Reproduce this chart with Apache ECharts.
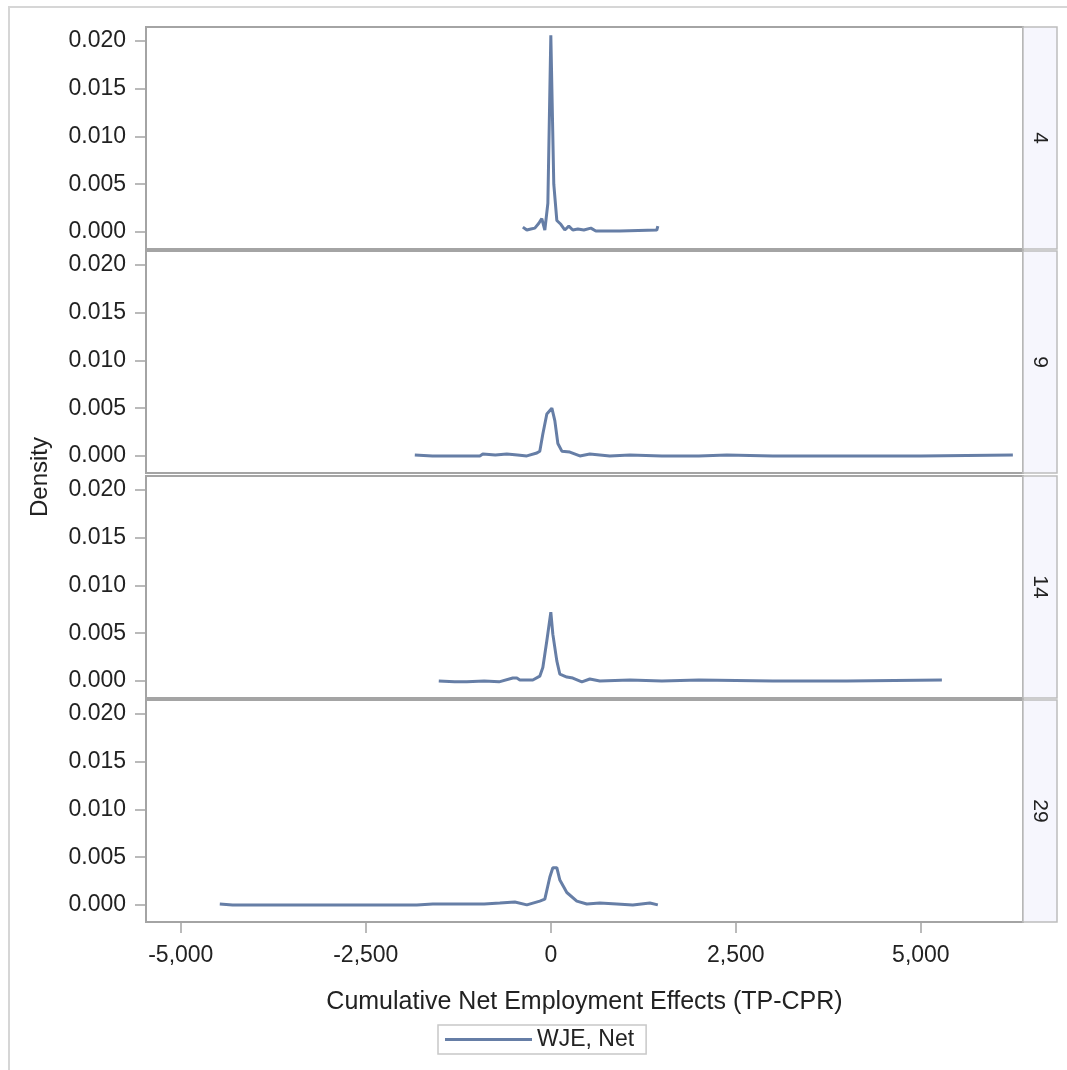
<!DOCTYPE html>
<html>
<head>
<meta charset="utf-8">
<title>Density by group</title>
<script src="https://cdn.jsdelivr.net/npm/echarts@6/dist/echarts.min.js"></script>
<style>
  html, body { margin: 0; padding: 0; background: #fff; }
  #chart { width: 1067px; height: 1070px; }
</style>
</head>
<body>
<div id="chart"></div>
<script>
// panel labels (right strips)
var groups = ['4', '9', '14', '29'];
var seriesName = 'WJE, Net';

var xTicks = [-5000, -2500, 0, 2500, 5000];
var yTicks = [0, 0.005, 0.010, 0.015, 0.020];

// density curves, [x, density]
var g4 = [[-378, 0.0005], [-324, 0.0002], [-270, 0.0003], [-216, 0.0004], [-162, 0.0009],
  [-122, 0.0014], [-81, 0.0002], [-40, 0.0030], [0, 0.0206], [40, 0.0050], [81, 0.0012],
  [135, 0.0008], [189, 0.0002], [243, 0.0006], [297, 0.0002], [365, 0.0003], [446, 0.0002],
  [541, 0.0004], [608, 0.0001], [932, 0.0001], [1432, 0.0002], [1446, 0.0006]];

var g9 = [[-1838, 0.0001], [-1600, 0.0000], [-1200, 0.0000], [-959, 0.0000], [-919, 0.0002],
  [-750, 0.0001], [-595, 0.0002], [-450, 0.0001], [-324, 0.0000], [-189, 0.0003], [-149, 0.0005],
  [-108, 0.0023], [-54, 0.0044], [14, 0.0050], [54, 0.0037], [95, 0.0013], [149, 0.0005],
  [257, 0.0004], [392, 0.0000], [527, 0.0002], [797, 0.0000], [1068, 0.0001], [1500, 0.0000],
  [2000, 0.0000], [2378, 0.0001], [3000, 0.0000], [4000, 0.0000], [5000, 0.0000], [6243, 0.0001]];

var g14 = [[-1514, 0.0000], [-1300, -0.0001], [-1135, -0.0001], [-900, 0.0000], [-700, -0.0001],
  [-514, 0.0003], [-459, 0.0003], [-419, 0.0001], [-243, 0.0001], [-149, 0.0005], [-108, 0.0014],
  [-54, 0.0042], [0, 0.0072], [27, 0.0049], [81, 0.0021], [122, 0.0007], [216, 0.0004],
  [297, 0.0003], [419, -0.0001], [527, 0.0002], [662, 0.0000], [1068, 0.0001], [1500, 0.0000],
  [2000, 0.0001], [3000, 0.0000], [4000, 0.0000], [5284, 0.0001]];

var g29 = [[-4473, 0.0001], [-4300, 0.0000], [-3000, 0.0000], [-2000, 0.0000], [-1811, 0.0000],
  [-1595, 0.0001], [-1135, 0.0001], [-900, 0.0001], [-689, 0.0002], [-486, 0.0003], [-324, 0.0000],
  [-149, 0.0004], [-81, 0.0006], [-14, 0.0029], [27, 0.0039], [81, 0.0039], [122, 0.0026],
  [216, 0.0013], [351, 0.0004], [486, 0.0001], [662, 0.0002], [892, 0.0001], [1108, 0.0000],
  [1338, 0.0002], [1446, 0.0000]];

var curves = [g4, g9, g14, g29];

var tops = [27, 251, 476, 700];
var panelH = 222;
var lineColor = '#667ea6';
var frameColor = '#a4a4a4';
var font = '"Liberation Sans", Arial, sans-serif';

var myChart = echarts.init(document.getElementById('chart'));

var grids = [], xAxes = [], yAxes = [], series = [], graphics = [];

graphics.push({
  type: 'rect', z: -10, silent: true,
  shape: { x: 9, y: 7, width: 1120, height: 1120 },
  style: { fill: 'none', stroke: '#d6d6d6', lineWidth: 2 }
});

for (var i = 0; i < groups.length; i++) {
  var last = i === groups.length - 1;
  grids.push({
    left: 146, width: 877, top: tops[i], height: panelH,
    show: true, borderColor: frameColor, borderWidth: 2, backgroundColor: '#fff'
  });
  xAxes.push({
    type: 'value', gridIndex: i, min: -5470, max: 6380, position: 'bottom',
    axisLine: { show: false, onZero: false },
    splitLine: { show: false },
    axisTick: { show: last, customValues: xTicks, length: 11, lineStyle: { color: frameColor, width: 1.5 } },
    axisLabel: {
      show: last, customValues: xTicks, margin: 22,
      color: '#222', fontSize: 23, fontFamily: font,
      formatter: function (v) { return v.toLocaleString('en-US'); }
    },
    name: last ? 'Cumulative Net Employment Effects (TP-CPR)' : '',
    nameLocation: 'middle', nameGap: 68,
    nameTextStyle: { color: '#222', fontSize: 25, fontFamily: font }
  });
  yAxes.push({
    type: 'value', gridIndex: i, min: -0.00179, max: 0.02147, position: 'left',
    axisLine: { show: false, onZero: false },
    splitLine: { show: false },
    axisTick: { show: true, customValues: yTicks, length: 11, lineStyle: { color: frameColor, width: 1.5 } },
    axisLabel: {
      customValues: yTicks, margin: 20,
      color: '#222', fontSize: 23, fontFamily: font,
      formatter: function (v) { return v.toFixed(3); }
    }
  });
  series.push({
    name: seriesName, type: 'line', xAxisIndex: i, yAxisIndex: i,
    data: curves[i], showSymbol: false, smooth: false,
    lineStyle: { color: lineColor, width: 3 },
    itemStyle: { color: lineColor }
  });
  graphics.push({
    type: 'rect', silent: true,
    shape: { x: 1023, y: tops[i], width: 34, height: panelH },
    style: { fill: '#f6f6fd', stroke: '#bdbdbd', lineWidth: 1.5 }
  });
  graphics.push({
    type: 'text', silent: true,
    x: 1040, y: tops[i] + panelH / 2, rotation: -Math.PI / 2,
    style: { text: groups[i], fill: '#222', font: '21px ' + font, align: 'center', verticalAlign: 'middle' }
  });
}

graphics.push({
  type: 'text', silent: true,
  x: 40, y: 477, rotation: Math.PI / 2,
  style: { text: 'Density', fill: '#222', font: '24px ' + font, align: 'center', verticalAlign: 'middle' }
});

var option = {
  animation: false,
  backgroundColor: '#fff',
  grid: grids,
  xAxis: xAxes,
  yAxis: yAxes,
  series: series,
  legend: {
    data: [seriesName], left: 438, top: 1025,
    icon: 'rect', itemWidth: 87, itemHeight: 3, itemGap: 10,
    padding: [3, 12, 3, 7], borderColor: '#c8c8c8', borderWidth: 1.5,
    textStyle: { color: '#222', fontSize: 23, fontFamily: font }
  },
  graphic: graphics
};

myChart.setOption(option);
</script>
</body>
</html>
